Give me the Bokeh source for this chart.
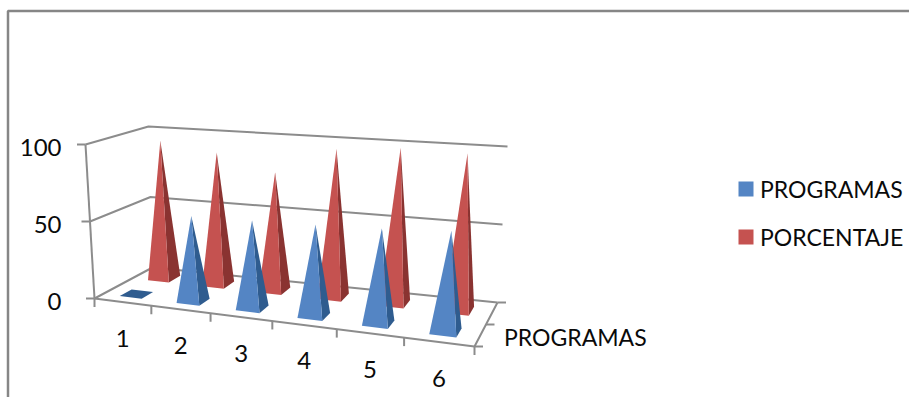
import numpy as np
from bokeh.plotting import figure
from bokeh.models import Range1d
from bokeh.core.properties import value
from bokeh.embed import file_html
from bokeh.resources import INLINE

categories = ["1", "2", "3", "4", "5", "6"]
series_names = ["PROGRAMAS", "PORCENTAJE"]
programas = [0, 55, 56, 57, 58.5, 61]
porcentaje = [94.5, 89, 78.5, 96.5, 100, 99]
value_ticks = [0, 50, 100]
axis_name = "PROGRAMAS"

# colours / layout (pixels of the picture)
BLUE, BLUE_D = "#5485C4", "#2F5C8F"
RED, RED_D = "#C55250", "#8A3331"
GRID = "#8C8C8C"
FRAME = "#868686"
FONT = value("Lato")
FS = "23px"
FS_NUM = "24px"
INK = "#0A0A0A"

W, H = 909, 397
p = figure(width=W, height=H, output_backend="svg", toolbar_location=None,
           x_range=Range1d(0, W), y_range=Range1d(H, 0), min_border=0,
           outline_line_color=None, background_fill_color="white")
p.axis.visible = False
p.grid.visible = False

# corners of the 3D box: (front-left, front-right, back-right, back-left)
FLOOR = np.array([(94, 298), (474, 346), (497, 302), (152, 267)], float)
ROOF = np.array([(85, 144), (486, 176), (507, 146), (148, 126)], float)
PERSPECTIVE = 1.137


def bilinear(c, s, d):
    front = c[0] + (c[1] - c[0]) * s
    back = c[3] + (c[2] - c[3]) * s
    return front + (back - front) * d


def proj(u, d, v=0.0):
    t = u / 6.0
    s = t / (t + PERSPECTIVE * (1 - t))
    a, b = bilinear(FLOOR, s, d), bilinear(ROOF, s, d)
    return tuple(a + (b - a) * v / 100.0)


def seg(points, color=GRID, width=2.0):
    p.line([q[0] for q in points], [q[1] for q in points], line_color=color, line_width=width)


# chart frame
p.line([7.5, 7.5, W], [H, 10.5, 10.5], line_color=FRAME, line_width=2.5)

# walls and floor
for v in value_ticks:
    seg([proj(0, 0, v), proj(0, 1, v), proj(6, 1, v)])
seg([proj(0, 0, 0), proj(0, 0, value_ticks[-1])])
seg([proj(0, 0, 0), proj(6, 0, 0), proj(6, 1, 0)])

# tick marks
TL = 8.5
for v in value_ticks:
    x, y = proj(0, 0, v)
    seg([(x - TL, y), (x, y)])
for u in range(7):
    x, y = proj(u, 0)
    seg([(x, y), (x, y + TL)])
for d in (0, 0.5, 1):
    x, y = proj(6, d)
    seg([(x, y), (x + TL, y)])


def draw(vals, depth, front, side):
    hu, hd = 0.195, 0.105
    for i, v in enumerate(vals):
        c = i + 0.5
        fl, fr = proj(c - hu, depth - hd), proj(c + hu, depth - hd)
        br, bl = proj(c + hu, depth + hd), proj(c - hu, depth + hd)
        apex = proj(c, depth, v)
        if v == 0:
            p.patch(*zip(fl, fr, br, bl), fill_color=side, line_color=None)
            continue
        p.patch(*zip(fr, br, apex), fill_color=side, line_color=None)
        p.patch(*zip(fl, fr, apex), fill_color=front, line_color=None)


draw(porcentaje, 0.75, RED, RED_D)
draw(programas, 0.25, BLUE, BLUE_D)

# value labels
for v in value_ticks:
    x, y = proj(0, 0, v)
    p.text([61], [y + 3], text=[str(v)], text_align="right", text_baseline="middle",
           text_font=FONT, text_font_size=FS_NUM, text_color=INK)
# category labels
for i, c in enumerate(categories):
    x, y = proj(i + 0.5, 0)
    p.text([x], [y + 36], text=[c], text_align="center", text_baseline="middle",
           text_font=FONT, text_font_size=FS_NUM, text_color=INK)
# depth-axis label
x, y = proj(6, 0.5)
p.text([x + 18], [y + 12], text=[axis_name], text_align="left", text_baseline="middle",
       text_font=FONT, text_font_size=FS, text_color=INK)

# legend
for name, col, yc in zip(series_names, [BLUE, RED], [188.5, 236.5]):
    p.quad(left=[738], right=[753], top=[yc - 7.5], bottom=[yc + 7.5], fill_color=col, line_color=None)
    p.text([759.5], [yc], text=[name], text_align="left", text_baseline="middle",
           text_font=FONT, text_font_size=FS, text_color=INK)

open("out.html", "w").write(file_html(p, INLINE))
